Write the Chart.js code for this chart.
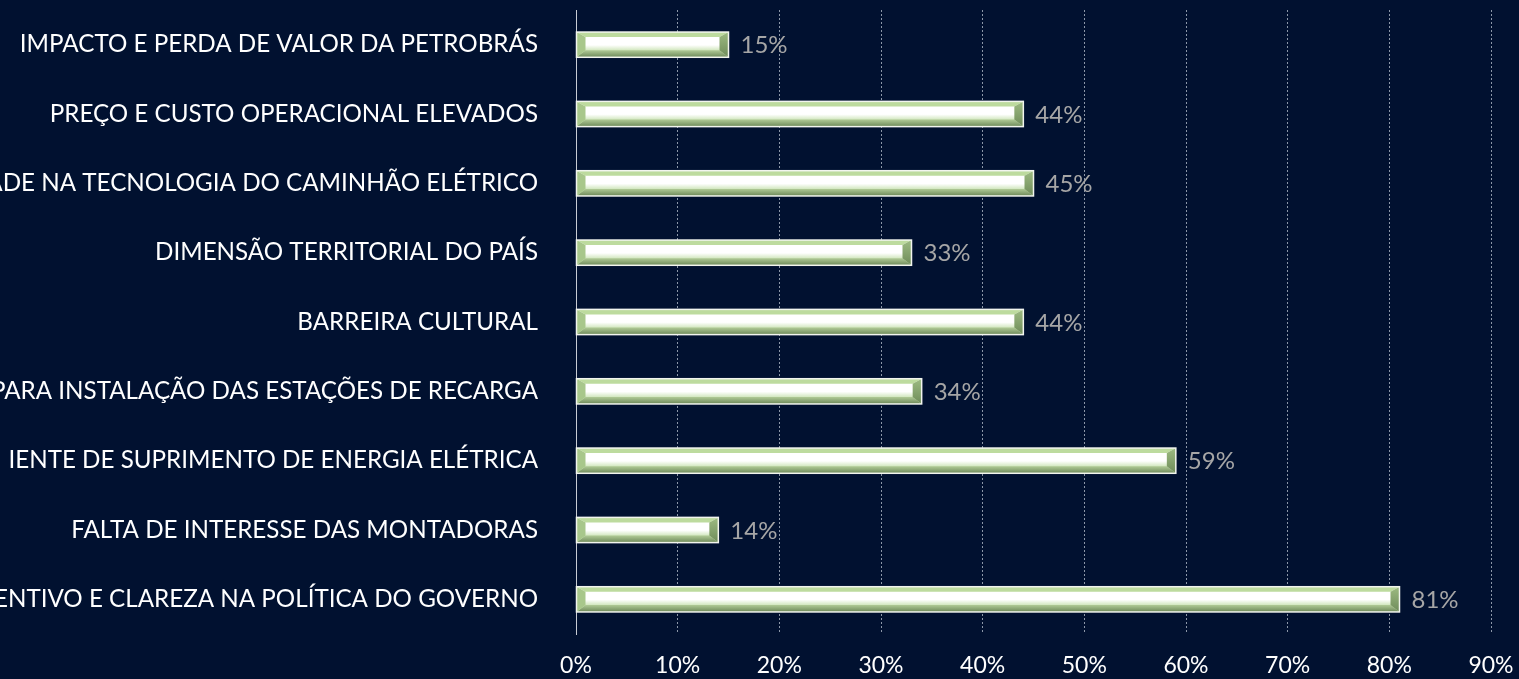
<!DOCTYPE html>
<html>
<head>
<meta charset="utf-8">
<script src="https://cdn.jsdelivr.net/npm/chart.js@4.4.1/dist/chart.umd.min.js"></script>
<style>
  html, body { margin: 0; padding: 0; background: #011130; overflow: hidden; }
  #wrap { position: relative; width: 1519px; height: 679px; }
</style>
</head>
<body>
<div id="wrap"><canvas id="chart" width="1519" height="679"></canvas></div>
<script>
// ---- Data (top to bottom, as seen) ----
const categories = [
  "IMPACTO E PERDA DE VALOR DA PETROBRÁS",
  "PREÇO E CUSTO OPERACIONAL ELEVADOS",
  "ADE NA TECNOLOGIA DO CAMINHÃO ELÉTRICO",
  "DIMENSÃO TERRITORIAL DO PAÍS",
  "BARREIRA CULTURAL",
  "PARA INSTALAÇÃO DAS ESTAÇÕES DE RECARGA",
  "IENTE DE SUPRIMENTO DE ENERGIA ELÉTRICA",
  "FALTA DE INTERESSE DAS MONTADORAS",
  "ENTIVO E CLAREZA NA POLÍTICA DO GOVERNO"
];
const values = [15, 44, 45, 33, 44, 34, 59, 14, 81];
const xTicks = [0, 10, 20, 30, 40, 50, 60, 70, 80, 90];

const FONT = "Lato, 'Open Sans', sans-serif";

// ---- Bevelled bar look + value labels ----
const bevelBars = {
  id: "bevelBars",
  afterDatasetsDraw(chart) {
    const c = chart.ctx;
    const meta = chart.getDatasetMeta(0);
    meta.data.forEach((bar, i) => {
      const x0 = bar.base, x1 = bar.x;
      const yt = bar.y - bar.height / 2, yb = bar.y + bar.height / 2;
      const h = yb - yt;
      const bx = 9, bt = 5, bb = 7;
      c.save();
      // face
      const g = c.createLinearGradient(0, yt + bt, 0, yb - bb);
      g.addColorStop(0, "#ffffff");
      g.addColorStop(0.6, "#ffffff");
      g.addColorStop(1, "#d2e7bf");
      c.fillStyle = g;
      c.fillRect(x0, yt, x1 - x0, h);
      // top bevel
      c.fillStyle = "#bddb9e";
      poly(c, [[x0, yt], [x1, yt], [x1 - bx, yt + bt], [x0 + bx, yt + bt]]);
      // bottom bevel
      const gb = c.createLinearGradient(0, yb - bb, 0, yb);
      gb.addColorStop(0, "#b0ca96");
      gb.addColorStop(1, "#6c8858");
      c.fillStyle = gb;
      poly(c, [[x0, yb], [x1, yb], [x1 - bx, yb - bb], [x0 + bx, yb - bb]]);
      // left end
      c.fillStyle = "#a8c78b";
      poly(c, [[x0, yt], [x0 + bx, yt + bt], [x0 + bx, yb - bb], [x0, yb]]);
      // right end
      const gr = c.createLinearGradient(0, yt, 0, yb);
      gr.addColorStop(0, "#9dbb82");
      gr.addColorStop(1, "#6f8c5a");
      c.fillStyle = gr;
      poly(c, [[x1, yt], [x1 - bx, yt + bt], [x1 - bx, yb - bb], [x1, yb]]);
      // outline
      c.strokeStyle = "#f2f5ee";
      c.lineWidth = 1.5;
      c.strokeRect(x0, yt, x1 - x0, h);
      // value label
      c.fillStyle = "#a6a6a6";
      c.font = "24px " + FONT;
      c.textAlign = "left";
      c.textBaseline = "middle";
      c.fillText(values[i] + "%", x1 + 12, bar.y + 1);
      c.restore();
    });
  }
};

function poly(c, pts) {
  c.beginPath();
  c.moveTo(pts[0][0], pts[0][1]);
  for (let k = 1; k < pts.length; k++) c.lineTo(pts[k][0], pts[k][1]);
  c.closePath();
  c.fill();
}

// ---- Chart ----
new Chart(document.getElementById("chart"), {
  type: "bar",
  data: {
    labels: categories,
    datasets: [{
      data: values,
      backgroundColor: "#ffffff",
      borderWidth: 0,
      barPercentage: 0.52,
      categoryPercentage: 0.7
    }]
  },
  options: {
    indexAxis: "y",
    responsive: false,
    animation: false,
    layout: { padding: { top: 10, right: 28, bottom: 0, left: 0 } },
    plugins: {
      legend: { display: false },
      tooltip: { enabled: false }
    },
    scales: {
      x: {
        min: 0,
        max: 90,
        afterBuildTicks: (s) => { s.ticks = xTicks.map(v => ({ value: v })); },
        afterFit: (s) => { s.height = 45; s.paddingLeft = 0; s.paddingRight = 0; },
        ticks: {
          color: "#ffffff",
          font: { family: FONT, size: 23 },
          padding: 18,
          callback: (v) => v + "%"
        },
        grid: {
          color: (ctx) => ctx.index === 0 ? "rgba(0,0,0,0)" : "#8c97a8",
          lineWidth: 1,
          drawTicks: false
        },
        border: { display: false, dash: [2, 2] }
      },
      y: {
        afterFit: (s) => { s.width = 576; s.paddingTop = 0; s.paddingBottom = 0; },
        ticks: {
          color: "#ffffff",
          font: { family: FONT, size: 24.2 },
          padding: 30
        },
        grid: { display: false },
        border: { display: true, color: "#c8ccd4", width: 1 }
      }
    }
  },
  plugins: [bevelBars]
});
</script>
</body>
</html>
